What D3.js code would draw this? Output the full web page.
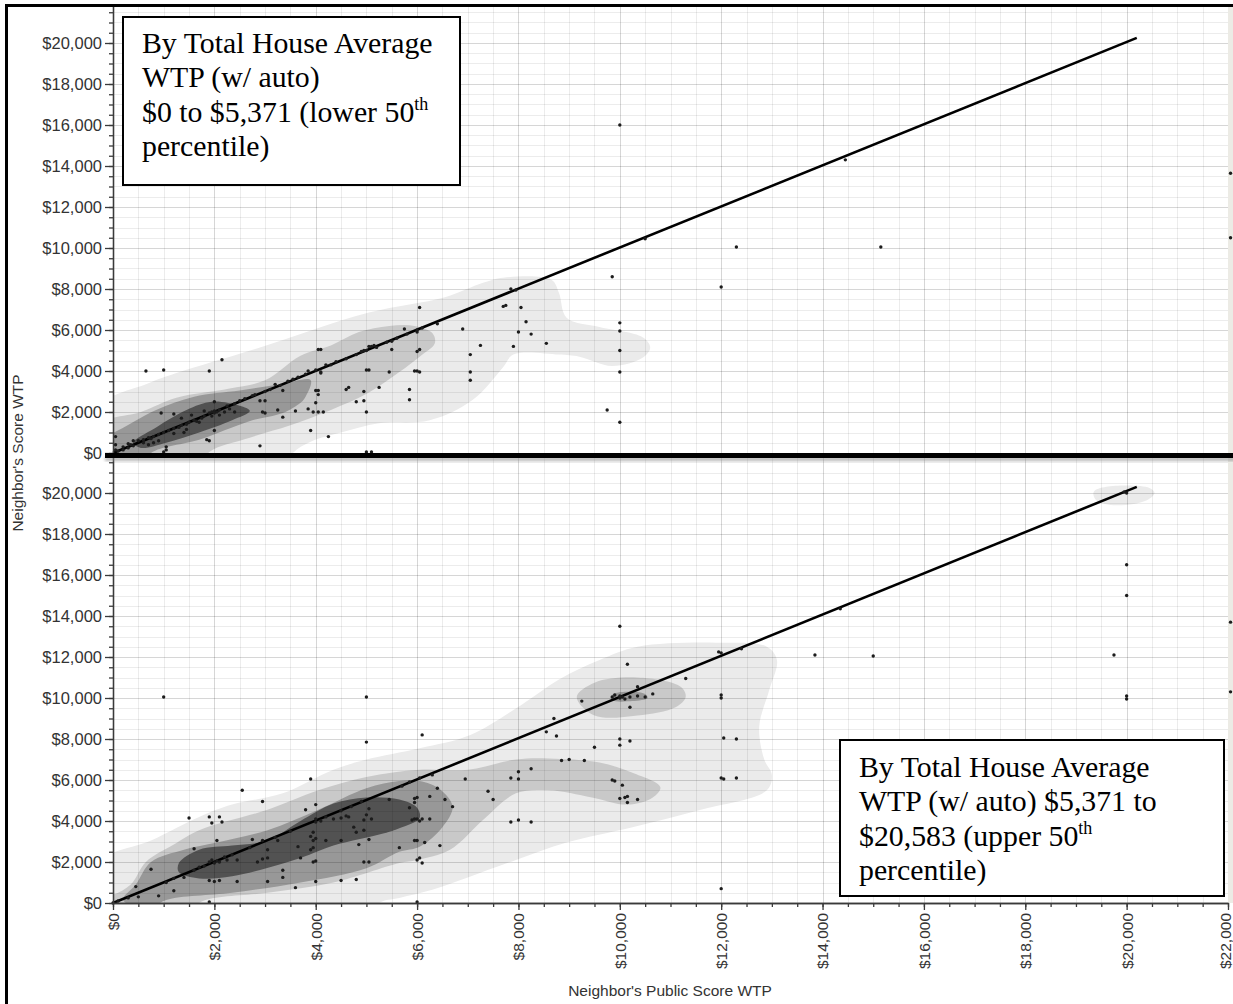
<!DOCTYPE html>
<html><head><meta charset="utf-8">
<script src="https://cdn.jsdelivr.net/npm/d3@7"></script>
<style>html,body{margin:0;padding:0;background:#fff;}svg{display:block}</style>
</head><body>
<svg id="chart" width="1233" height="1004"></svg>
<script>
// ---------------- DATA ----------------
const xTickValues = [0,2000,4000,6000,8000,10000,12000,14000,16000,18000,20000,22000];
const xTickLabels = ["$0","$2,000","$4,000","$6,000","$8,000","$10,000","$12,000","$14,000","$16,000","$18,000","$20,000","$22,000"];
const yTickValues = [0,2000,4000,6000,8000,10000,12000,14000,16000,18000,20000];
const yTickLabels = ["$0","$2,000","$4,000","$6,000","$8,000","$10,000","$12,000","$14,000","$16,000","$18,000","$20,000"];
const xAxisTitle = "Neighbor's Public Score WTP";
const yAxisTitle = "Neighbor's Score WTP";

const topBoxLines = ["By Total House Average", "WTP (w/ auto)", "$0 to $5,371 (lower 50|th", "percentile)"];
const bottomBoxLines = ["By Total House Average", "WTP (w/ auto) $5,371 to", "$20,583 (upper 50|th", "percentile)"];

const diagonalTop = [[0,0],[20200,20250]];
const diagonalBottom = [[0,0],[20200,20300]];

// density contour outlines (value units), level 1 = lightest
const topLevel1 = [[-300,2200],[700,3400],[1250,3900],[2900,5150],[5050,6850],[6550,7600],[7300,8300],[7700,8550],[8650,8450],[8800,7800],[8950,6600],[9600,6150],[10450,5650],[10600,5150],[10450,4650],[9850,4250],[9200,4700],[8800,4800],[7900,4800],[7700,4200],[7100,2600],[6250,1600],[5250,1450],[4500,1000],[3900,550],[3550,0],[3400,-800],[-300,-800]];
const topLevel2 = [[-300,1350],[550,2000],[1250,2700],[2300,3150],[3000,3550],[3700,4750],[4300,5250],[4850,5900],[5450,6200],[5950,6200],[6300,5850],[6350,5350],[6050,4700],[5650,3950],[5050,2950],[4300,2100],[3500,1350],[2700,750],[1900,50],[1700,-800],[-300,-800]];
const topLevel3 = [[-300,700],[0,980],[850,2100],[1600,2750],[2500,3050],[3300,3350],[3900,3550],[3800,2750],[3700,2450],[3350,1950],[2750,1600],[2350,1250],[1700,650],[750,0],[550,-800],[-300,-800]];
const topLevel4 = [[400,500],[850,1250],[1450,2100],[1950,2500],[2500,2300],[2700,2050],[2350,1600],[1700,1000],[1050,500],[550,250]];

const bottomLevel1 = [[-300,1950],[750,3050],[1700,4200],[2350,4800],[3350,5350],[4350,6500],[5000,7000],[6050,7550],[7050,8200],[8050,9650],[8800,10900],[9600,11850],[10350,12500],[11900,12700],[12900,12500],[13100,11850],[12950,10400],[12750,8600],[12850,7000],[13000,6250],[12900,5500],[11600,4550],[10250,3700],[8950,2950],[7950,2100],[7000,1250],[6300,650],[5650,250],[5250,0],[5050,-800],[-300,-800]];
const bottomLevel1b = [[19350,20050],[19600,20300],[20450,20250],[20550,20000],[20400,19650],[19800,19400],[19400,19650]];
const bottomLevel2 = [[-300,300],[0,400],[350,900],[650,2000],[1200,2850],[1700,3550],[3050,4550],[4050,5500],[5000,6150],[6050,6500],[7000,6500],[7950,7000],[8600,7050],[9600,6850],[10250,6350],[10800,5650],[10650,5150],[10150,4800],[9450,5150],[8600,5500],[7950,5350],[7300,4050],[6650,2600],[6000,2100],[5650,1950],[4350,1000],[3050,500],[1700,0],[1500,-800],[-300,-800]];
const bottomLevel2b = [[9150,10050],[9500,10750],[10350,11000],[11200,10550],[11300,10050],[11100,9550],[10350,9150],[9500,9150]];
const bottomLevel3 = [[200,150],[450,900],[750,2000],[1400,2600],[2050,2950],[3050,3550],[4050,4550],[5000,5600],[5650,5950],[6050,5950],[6450,5550],[6700,4700],[6500,3700],[6050,2750],[5650,2500],[5000,1700],[3700,1000],[2350,500],[1050,150],[700,-300]];
const bottomLevel3b = [[9850,10150],[10100,10300],[10500,10200],[10550,10000],[10250,9850],[9850,9900]];
const bottomLevel4 = [[1300,1950],[1700,2600],[2350,2800],[3050,3050],[3700,4000],[4350,4850],[5000,5150],[5650,5050],[6000,4650],[6050,4150],[5650,3650],[5350,3400],[4350,2800],[3700,2200],[2350,1300],[1700,1200],[1300,1500]];

// scatter points [public WTP, score WTP]
const topPoints = [
[10000,16000],[14450,14300],[12300,10050],[15150,10050],[10500,10450],[12000,8100],[9850,8600],[10000,6350],[10000,5950],[10000,5000],[10000,3950],[9750,2100],[10000,1500],
[7850,8000],[7950,7950],[7700,7150],[7750,7200],[8050,7100],[8150,6400],[8000,5900],[8250,5800],[8550,5350],[7900,5200],[6900,6050],[7250,5250],[7050,4800],[7050,3950],[7050,3550],
[6050,7100],[6400,6300],[5750,6050],[6000,5900],[5500,5450],[5500,5050],[6000,4950],[6050,5050],[5950,4000],[6000,4000],[6050,3950],[5450,3950],[5850,3100],[5850,2600],[5250,3200],
[5050,5200],[5100,5200],[5150,5250],[4900,4950],[4950,5000],[5000,4050],[5050,4050],[4600,3100],[4650,3200],[4800,2500],[4950,2550],[5000,2000],[4950,3000],[5000,50],[5100,50],
[4050,5050],[4100,5050],[4000,4050],[4100,3900],[4100,3950],[3850,4000],[4200,4300],[4000,3050],[4050,3050],[4050,2850],[3850,2150],[4000,2450],[3950,2000],[4050,2000],[4150,2000],[3900,1100],[4250,800],
[2900,350],[3350,1750],[3250,2100],[2950,2000],[3000,1950],[2900,2550],[3000,2550],[3350,3050],[3450,3500],[3200,3350],[3800,3850],[3300,3300],[3550,3600],[3650,3700],[3000,3000],[3100,3100],[2800,2850],[3600,2050],
[2150,4550],[1900,4000],[1000,4050],[650,4000],[950,1950],[1850,650],[1900,600],[2000,1100],[1050,300],[1050,150],[1000,50],[50,800],[50,400],[50,150],[200,300],[300,450],[350,400],[400,600],
[500,600],[600,650],[700,750],[750,700],[800,800],[900,900],[1000,1000],[1100,1100],[1200,1200],[1300,1250],[1350,1350],[1450,1400],[1500,1500],[1600,1600],[1650,1550],[1750,1700],[1800,1800],[1900,1950],[1950,2000],[2000,2050],[2050,2000],[2000,1950],[2100,2100],[2200,2000],[2300,2150],[2400,2400],[2500,2550],[2600,2650],[2750,2800],[1800,2050],[1550,1850],[1350,1700],[1200,1900],[1700,1500],[1950,1800],[2100,1850],[2400,2000],[1450,1150],[1200,950],[800,500],[600,500],[300,250],[200,150],[100,100],[400,350],[700,400],[900,600],[2000,2500],[2250,2300],[1400,1000],
[5000,5000],[5200,5150],[5400,5400],[5600,5600],[5800,5800],[6000,6000],[6100,6100],[4600,4600],[4800,4800],[4400,4450],[4300,4300],
[22050,13650],[22050,10500]
];
const bottomPoints = [
[20000,20000],[19950,20050],[20000,16500],[20000,15000],[20000,10100],[20000,9950],[19750,12100],[14350,14350],[15000,12050],[13850,12100],[12400,12400],[11950,12250],[12000,12200],[10000,13500],[10150,11650],[11300,10950],[12000,10150],[12000,10000],[12050,8050],[12300,8000],[12000,6100],[12050,6050],[12300,6100],[12000,700],
[22050,13700],[22050,10300],
[9250,9850],[9850,10050],[9900,10150],[10000,10000],[10050,10050],[10100,9950],[10200,10050],[10350,10100],[10500,10050],[10650,10200],[10350,10550],[10200,9550],[10000,10100],
[8700,9000],[8550,8350],[8750,8150],[8850,6950],[9000,7000],[9300,6950],[9500,7600],[10000,8000],[10000,7700],[10200,7900],[9850,6000],[9900,5950],[10050,5750],[10000,5100],[10100,5150],[10150,5200],[10150,4900],[10350,5050],
[8250,6550],[8000,6400],[8000,6050],[7850,6100],[7400,5450],[7500,5050],[7850,3950],[8000,4050],[8250,3950],[6950,6050],[6300,6250],[6400,5600],[6550,5050],[6700,4700],[6250,5200],[6100,8200],
[5950,5100],[6000,5150],[5950,4900],[5850,4650],[5900,4050],[5950,4100],[6000,4100],[6050,4000],[6100,4100],[6250,4100],[6000,3050],[5950,3050],[6150,2950],[6450,2800],[6000,2100],[6050,2200],[6100,1950],[6000,50],[5700,5700],[5850,5900],[6050,6100],[5450,5050],[5650,2700],
[5000,10050],[5000,7850],[4950,4050],[5000,4300],[5050,4600],[5100,4100],[4950,3550],[5050,3100],[4950,2000],[5050,2000],[4850,2850],[4750,3700],[4800,3450],[4800,1150],[4500,1100],[4350,4100],[4500,4150],[4600,4250],[4650,4200],[4500,3050],[4200,3050],[4900,4950],[4700,4700],[4500,4500],
[3900,6050],[3800,4550],[4000,4800],[4000,4100],[4000,3950],[3950,3050],[3950,3450],[3900,3250],[4000,3150],[3900,2600],[3950,2700],[3950,2000],[4000,2050],[4000,1050],[3650,2750],[3700,2200],[3600,750],[3350,1600],[3350,1250],[3250,3050],[4100,4000],[4200,4200],
[2550,5500],[2950,4950],[2750,3100],[2950,3050],[3050,2600],[2850,2000],[2950,2150],[3050,2200],[3050,1050],[2450,1050],[2250,2100],[2450,2100],[3200,3200],[3500,3500],[2700,2700],
[1500,4150],[1900,4200],[2100,4200],[1950,3900],[2150,3950],[2050,3050],[1600,2650],[1900,2000],[1950,2100],[2000,1950],[2050,2050],[2100,2000],[1900,1100],[2000,1050],[2100,1100],[1900,50],[1000,10050],
[750,1650],[450,800],[500,300],[900,350],[1050,1000],[1200,600],[1400,1250],[1600,1600],[1200,1200],[0,0],[100,100],[300,250],[1800,1800],[2200,2250],[2350,2350],[1700,1750]
];

// ---------------- DRAWING ----------------
const svg = d3.select("#chart");
const defs = svg.append("defs");
defs.append("filter").attr("id","blur").append("feGaussianBlur").attr("stdDeviation",1.6);

const x = d3.scaleLinear().domain([0,22000]).range([113,1228]);
const pxPerUnit = 410/20000;
const panels = [
  {id:"top", zeroY:453, topY:5, points:topPoints, diag:diagonalTop,
   levels:[[topLevel1],[topLevel2],[topLevel3],[topLevel4]], showX:false},
  {id:"bot", zeroY:903, topY:457, points:bottomPoints, diag:diagonalBottom,
   levels:[[bottomLevel1,bottomLevel1b],[bottomLevel2,bottomLevel2b],[bottomLevel3,bottomLevel3b],[bottomLevel4]], showX:true}
];
const levelColors = ["#ebebeb","#c9c9c9","#989898","#525252"];
const fontSans = "'Liberation Sans', Arial, Helvetica, sans-serif";
const fontSerif = "'Liberation Serif', 'Times New Roman', serif";

panels.forEach(p => {
  const maxVal = (p.zeroY - p.topY)/pxPerUnit;
  const y = d3.scaleLinear().domain([0,maxVal]).range([p.zeroY,p.topY]);
  const g = svg.append("g");
  defs.append("clipPath").attr("id","clip-"+p.id).append("rect")
    .attr("x",x(0)).attr("y",p.topY).attr("width",x.range()[1]-x(0)).attr("height",p.zeroY-p.topY);

  g.append("rect").attr("x",x.range()[1]).attr("y",p.topY).attr("width",12).attr("height",p.zeroY-p.topY).attr("fill","#ecebe5");

  const cg = g.append("g").attr("clip-path","url(#clip-"+p.id+")");
  const line = d3.line().x(d=>x(d[0])).y(d=>y(d[1])).curve(d3.curveCatmullRomClosed.alpha(0.5));
  p.levels.forEach((polys,i) => {
    polys.forEach(poly => cg.append("path").attr("d",line(poly)).attr("fill",levelColors[i]));
  });

  const gg = g.append("g").attr("clip-path","url(#clip-"+p.id+")");
  const minorX = d3.range(500,22000,500).filter(v=>v%2000!==0);
  const majorX = d3.range(2000,22001,2000);
  const minorY = d3.range(500,maxVal,500).filter(v=>v%2000!==0);
  const majorY = d3.range(2000,maxVal,2000);
  gg.selectAll(".mx").data(minorX).enter().append("line")
    .attr("x1",d=>Math.round(x(d))+0.5).attr("x2",d=>Math.round(x(d))+0.5).attr("y1",p.topY).attr("y2",p.zeroY)
    .attr("stroke","rgba(0,0,0,0.075)");
  gg.selectAll(".my").data(minorY).enter().append("line")
    .attr("y1",d=>Math.round(y(d))+0.5).attr("y2",d=>Math.round(y(d))+0.5).attr("x1",x(0)).attr("x2",x.range()[1])
    .attr("stroke","rgba(0,0,0,0.075)");
  gg.selectAll(".Mx").data(majorX).enter().append("line")
    .attr("x1",d=>Math.round(x(d))+0.5).attr("x2",d=>Math.round(x(d))+0.5).attr("y1",p.topY).attr("y2",p.zeroY)
    .attr("stroke","rgba(0,0,0,0.16)");
  gg.selectAll(".My").data(majorY).enter().append("line")
    .attr("y1",d=>Math.round(y(d))+0.5).attr("y2",d=>Math.round(y(d))+0.5).attr("x1",x(0)).attr("x2",x.range()[1])
    .attr("stroke","rgba(0,0,0,0.16)");

  g.append("path").attr("d",d3.line().x(d=>x(d[0])).y(d=>y(d[1]))(p.diag))
    .attr("stroke","#000").attr("stroke-width",2.6).attr("fill","none");

  g.selectAll(".pt").data(p.points).enter().append("circle")
    .attr("cx",d=>x(d[0])).attr("cy",d=>y(d[1])).attr("r",1.7).attr("fill","#1c1c1c");

  const yMinor = d3.axisLeft(y).tickValues(d3.range(0,maxVal,500)).tickSize(4).tickSizeOuter(0).tickFormat("");
  const ya = g.append("g").attr("transform",`translate(${x(0)},0)`).call(yMinor);
  const yMajor = d3.axisLeft(y).tickValues(yTickValues).tickSize(8).tickSizeOuter(0)
    .tickFormat((d,i)=>yTickLabels[i]).tickPadding(3);
  const yb = g.append("g").attr("transform",`translate(${x(0)},0)`).call(yMajor);
  [ya,yb].forEach(a=>{
    a.selectAll("path,line").attr("stroke","#3a3a3a").attr("stroke-width",1.3);
    a.selectAll("text").attr("font-family",fontSans).attr("font-size",16.5).attr("fill","#333");
  });

  if (p.showX) {
    const xMinor = d3.axisBottom(x).tickValues(d3.range(0,22001,500)).tickSize(4).tickSizeOuter(0).tickFormat("");
    const xa = g.append("g").attr("transform",`translate(0,${p.zeroY})`).call(xMinor);
    const xMajor = d3.axisBottom(x).tickValues(xTickValues).tickSize(7).tickSizeOuter(0).tickFormat((d,i)=>xTickLabels[i]);
    const xb = g.append("g").attr("transform",`translate(0,${p.zeroY})`).call(xMajor);
    [xa,xb].forEach(a=>a.selectAll("path,line").attr("stroke","#3a3a3a").attr("stroke-width",1.3));
    xb.selectAll("text").attr("font-family",fontSans).attr("font-size",15.5).attr("fill","#333")
      .attr("transform","rotate(-90)").attr("text-anchor","end").attr("x",-10)
      .attr("y",(d,i)=> i===xTickValues.length-1 ? -3 : 0).attr("dy","0.35em");
  }
});

svg.append("rect").attr("x",105).attr("y",457).attr("width",1140).attr("height",4).attr("fill","#888").attr("opacity",0.6).attr("filter","url(#blur)");
svg.append("line").attr("x1",105).attr("x2",1245).attr("y1",455.5).attr("y2",455.5).attr("stroke","#000").attr("stroke-width",5);

svg.append("text").text(xAxisTitle).attr("x",670).attr("y",996).attr("text-anchor","middle")
  .attr("font-family",fontSans).attr("font-size",15.5).attr("fill","#333");
svg.append("text").text(yAxisTitle).attr("transform","translate(23,453) rotate(-90)").attr("text-anchor","middle")
  .attr("font-family",fontSans).attr("font-size",15.5).attr("fill","#333");

svg.append("rect").attr("x",6.5).attr("y",5.5).attr("width",1240).attr("height",1010)
  .attr("fill","none").attr("stroke","#000").attr("stroke-width",3);

function box(bx,by,bw,bh,tx,ty0,lines){
  svg.append("rect").attr("x",bx).attr("y",by).attr("width",bw).attr("height",bh)
    .attr("fill","#fff").attr("stroke","#000").attr("stroke-width",2);
  lines.forEach((ln,i)=>{
    const parts = ln.split("|");
    const t = svg.append("text").attr("x",tx).attr("y",ty0+i*34.3)
      .attr("font-family",fontSerif).attr("font-size",29.8).attr("fill","#000");
    t.append("tspan").text(parts[0]);
    if (parts[1]) t.append("tspan").text(parts[1]).attr("font-size",18).attr("dy",-12);
  });
}
box(123,17,337,168,142,53,topBoxLines);
box(840,740,384,156,859,777,bottomBoxLines);
</script>
</body></html>
